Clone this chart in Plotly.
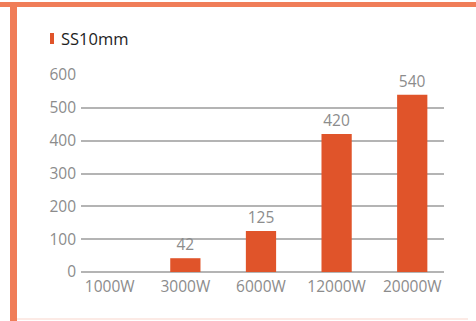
import plotly.graph_objects as go

# Cutting speed data for 10 mm stainless steel by laser power
powers = ["1000W", "3000W", "6000W", "12000W", "20000W"]
speeds = [0, 42, 125, 420, 540]
y_ticks = [0, 100, 200, 300, 400, 500, 600]

bar_color = "#e0542a"
frame_color = "#f07d58"
grey = "#8c8c8c"
font_family = "Open Sans, Noto Sans, sans-serif"

labels = [str(v) if v else "" for v in speeds]

fig = go.Figure(
    go.Bar(
        x=powers,
        y=speeds,
        text=labels,
        textposition="outside",
        textfont=dict(size=15.5, color=grey, family=font_family),
        marker=dict(color=bar_color, line=dict(width=0)),
        width=0.4,
        cliponaxis=False,
    )
)

fig.update_layout(
    width=476,
    height=321,
    margin=dict(l=81, r=32, t=75, b=49),
    paper_bgcolor="white",
    plot_bgcolor="white",
    showlegend=False,
    font=dict(family=font_family, color=grey, size=15),
    xaxis=dict(
        type="category",
        range=[-0.38, 4.42],
        showgrid=False,
        showline=False,
        ticks="",
        ticklabelstandoff=3,
        tickfont=dict(size=15.5, color=grey),
    ),
    yaxis=dict(
        range=[0, 600],
        tickvals=y_ticks,
        showgrid=True,
        gridcolor="#b4b4b4",
        gridwidth=1.5,
        zeroline=True,
        zerolinecolor="#b4b4b4",
        zerolinewidth=1.5,
        showline=False,
        ticks="",
        ticklabelstandoff=4,
        tickfont=dict(size=15.5, color=grey),
    ),
    shapes=[
        # orange card frame: top band and left band
        dict(type="rect", xref="paper", yref="paper", layer="above",
             x0=-81 / 363, x1=(476 - 81) / 363,
             y0=1 + (75 - 7) / 197, y1=1 + (75 - 2) / 197,
             fillcolor=frame_color, line=dict(width=0)),
        dict(type="rect", xref="paper", yref="paper", layer="above",
             x0=-(81 - 10) / 363, x1=-(81 - 17) / 363,
             y0=-49 / 197, y1=1 + (75 - 2) / 197,
             fillcolor=frame_color, line=dict(width=0)),
        # faint bottom edge
        dict(type="line", xref="paper", yref="paper", layer="above",
             x0=-(81 - 17) / 363, x1=(468 - 81) / 363,
             y0=-(319 - 272) / 197, y1=-(319 - 272) / 197,
             line=dict(color="#fbe3dc", width=1.5)),
        # legend marker next to the title
        dict(type="rect", xref="paper", yref="paper", layer="above",
             x0=-(81 - 50) / 363, x1=-(81 - 54) / 363,
             y0=1 + (75 - 44) / 197, y1=1 + (75 - 33) / 197,
             fillcolor=bar_color, line=dict(width=0)),
    ],
    annotations=[
        dict(text="SS10mm", xref="paper", yref="paper",
             x=-(81 - 59) / 363, y=1 + (75 - 38) / 197,
             xanchor="left", yanchor="middle", showarrow=False,
             font=dict(size=16.5, color="#1e1e1e", family=font_family)),
    ],
)

fig.write_html("out.html")
